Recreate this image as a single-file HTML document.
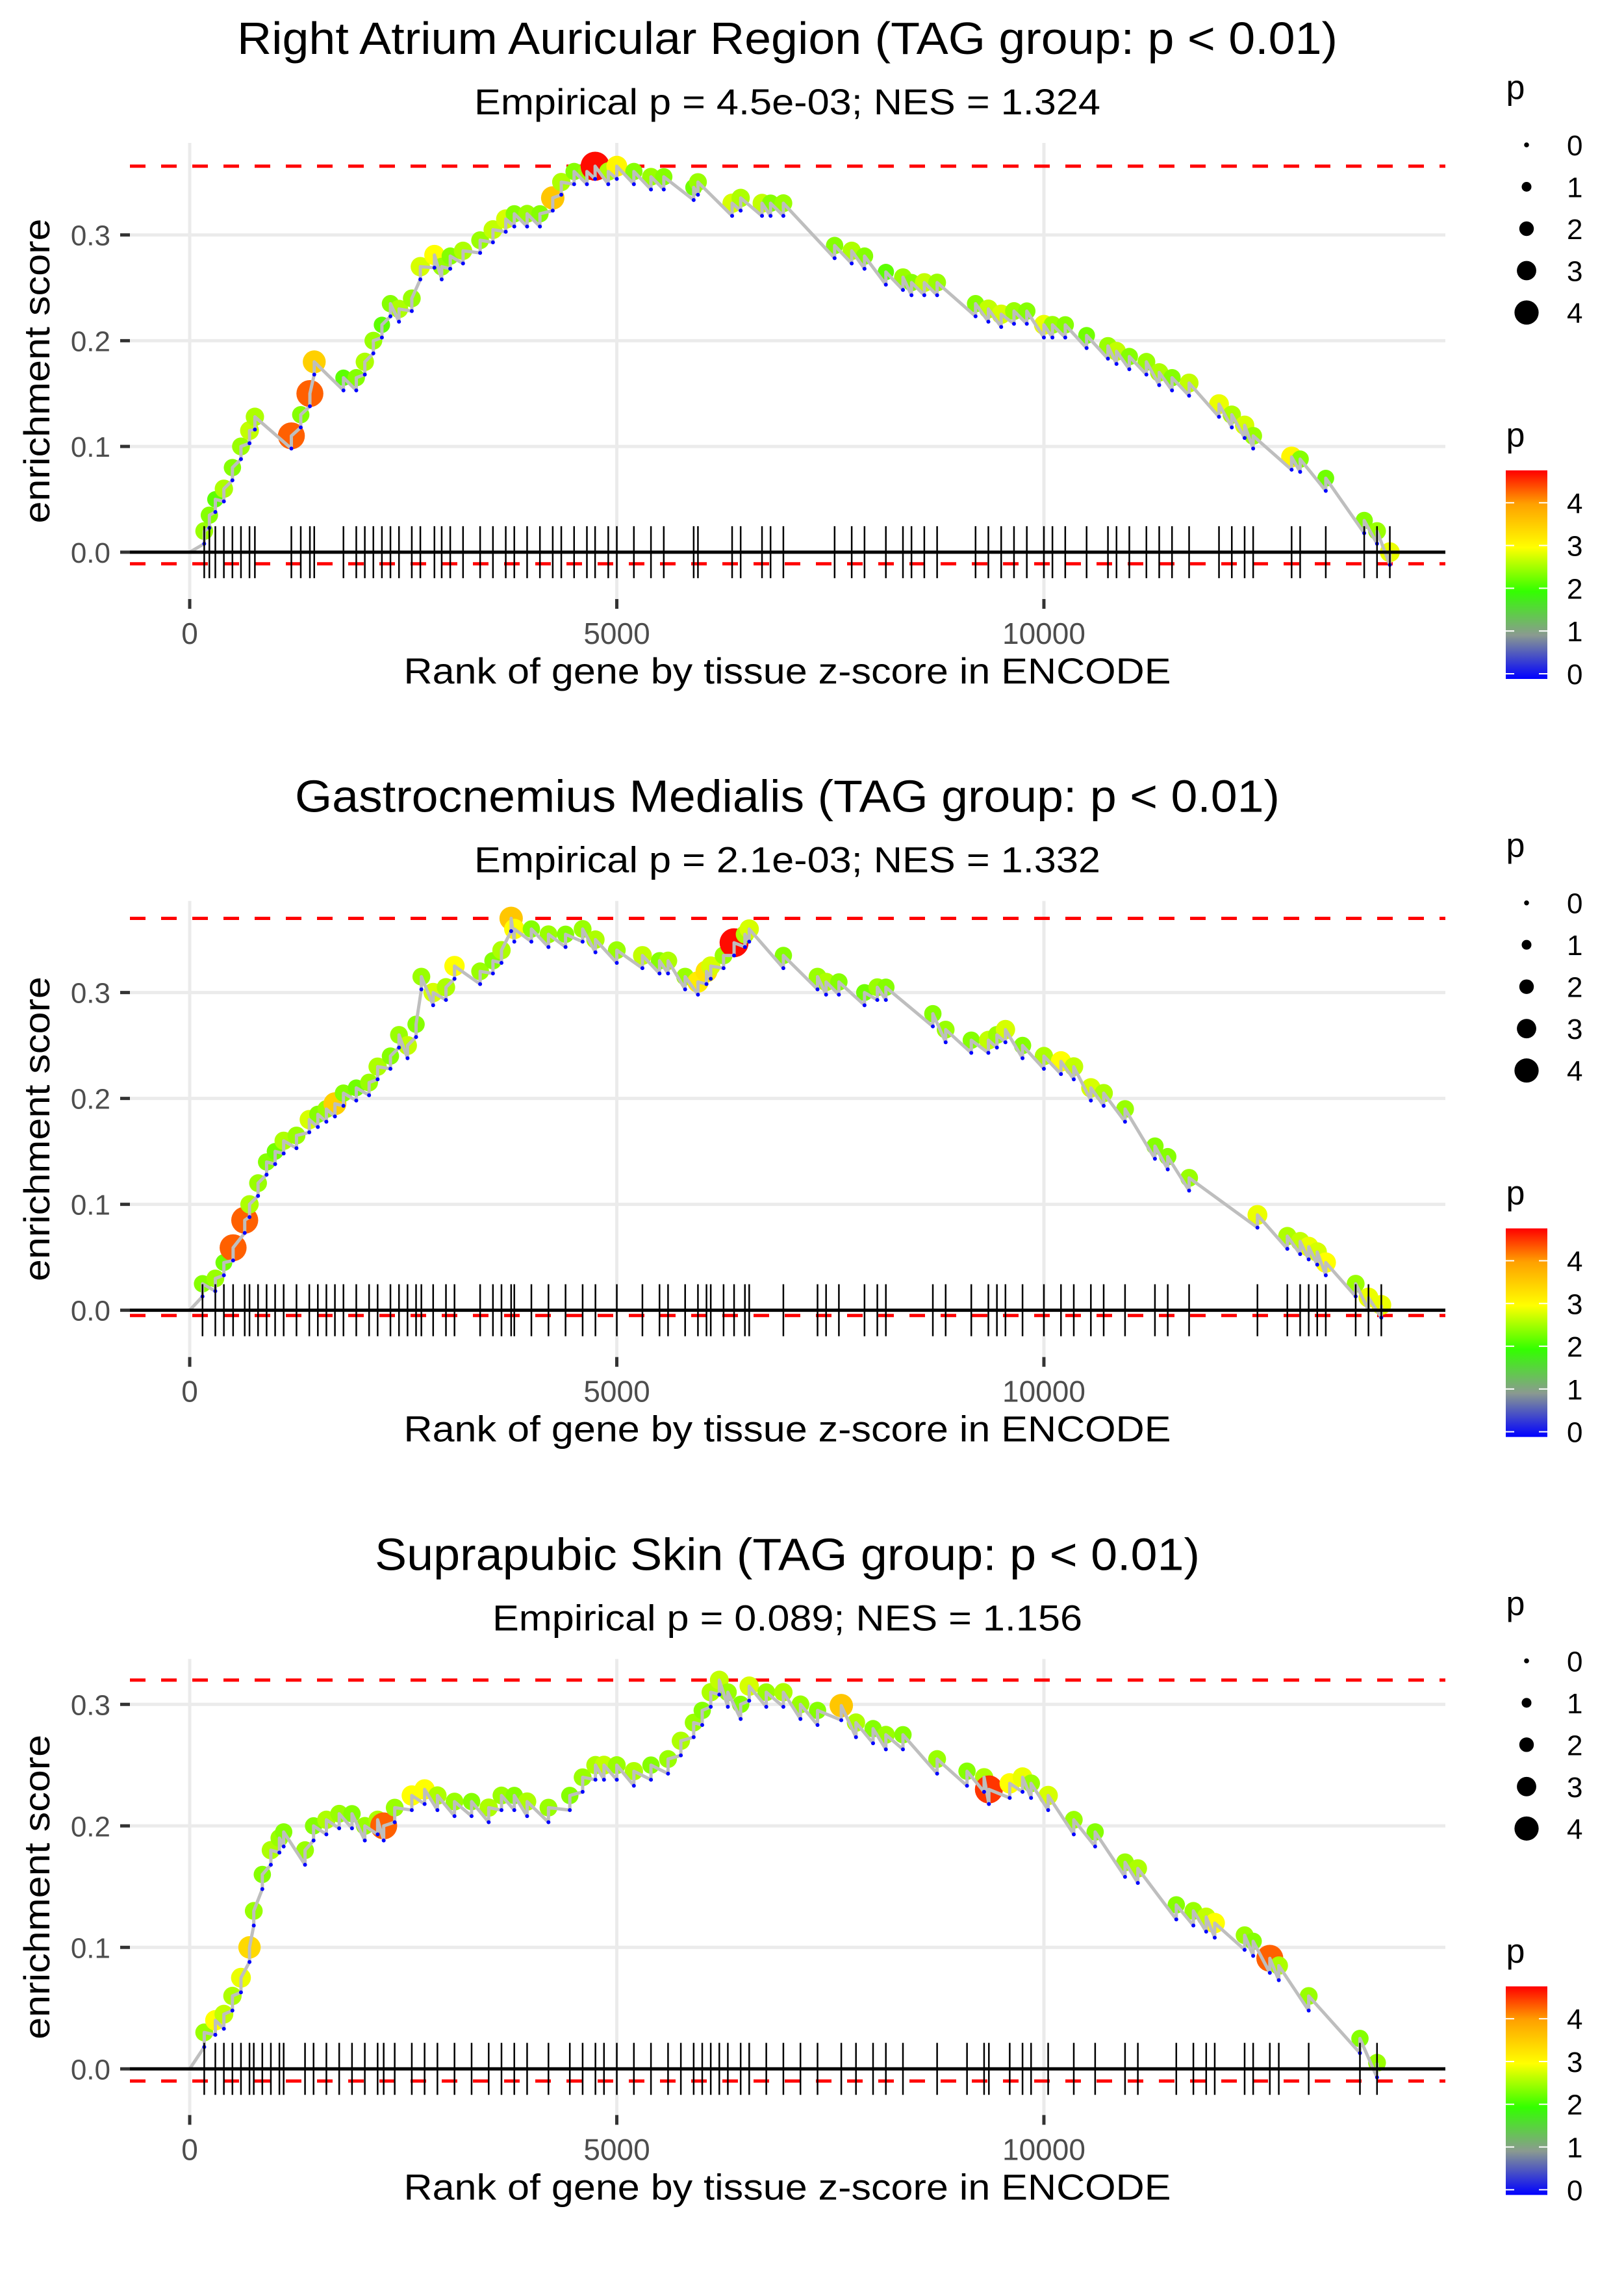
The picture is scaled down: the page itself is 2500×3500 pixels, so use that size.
<!DOCTYPE html>
<html><head><meta charset="utf-8"><style>
html,body{margin:0;padding:0;background:#fff;}
svg{display:block;font-family:"Liberation Sans",Arial,sans-serif;}
</style></head><body>
<svg id="chart" width="2500" height="3500" viewBox="0 0 2500 3500" xmlns="http://www.w3.org/2000/svg">
<defs>
<linearGradient id="pgrad" x1="0" y1="1" x2="0" y2="0">
<stop offset="0" stop-color="#0000ff"/>
<stop offset="0.21" stop-color="#8a9a90"/>
<stop offset="0.42" stop-color="#33ff00"/>
<stop offset="0.63" stop-color="#ffff00"/>
<stop offset="0.84" stop-color="#ffa000"/>
<stop offset="1" stop-color="#ff0000"/>
</linearGradient>
</defs>
</svg>
<script>
// ---- data ----
const titles = ["Right Atrium Auricular Region (TAG group: p < 0.01)","Gastrocnemius Medialis (TAG group: p < 0.01)","Suprapubic Skin (TAG group: p < 0.01)"];
const subtitles = ["Empirical p = 4.5e-03; NES = 1.324","Empirical p = 2.1e-03; NES = 1.332","Empirical p = 0.089; NES = 1.156"];
const xTicks = [0,5000,10000];
const yTicks1 = [0,0.1,0.2,0.3];
const yTicks2 = [0,0.1,0.2,0.3];
const yTicks3 = [0,0.1,0.2,0.3];
const esMax = [0.365,0.37,0.32];
const esMin = [-0.011,-0.005,-0.01];
const sizeLegend = [0,1,2,3,4];
const colorTicks = [0,1,2,3,4];

const rank1 = [170,230,300,400,500,600,700,763,1190,1300,1407,1458,1800,1950,2050,2150,2250,2350,2450,2600,2700,2865,2950,3050,3200,3400,3550,3700,3800,3950,4100,4250,4350,4500,4650,4746,4900,5000,5200,5400,5550,5900,5950,6350,6450,6700,6800,6950,7550,7750,7900,8150,8350,8450,8600,8750,9200,9350,9500,9650,9800,10000,10100,10250,10500,10750,10850,11000,11200,11350,11500,11700,12050,12200,12350,12450,12900,13000,13300,13750,13900,14050];
const es1 = [0.02,0.035,0.05,0.06,0.08,0.1,0.115,0.128,0.11,0.13,0.15,0.18,0.165,0.165,0.18,0.2,0.215,0.235,0.23,0.24,0.27,0.281,0.27,0.28,0.285,0.295,0.305,0.315,0.32,0.32,0.32,0.335,0.35,0.36,0.36,0.365,0.36,0.365,0.36,0.355,0.355,0.345,0.35,0.33,0.335,0.33,0.33,0.33,0.29,0.285,0.28,0.265,0.26,0.255,0.255,0.255,0.235,0.23,0.225,0.228,0.228,0.215,0.215,0.215,0.205,0.195,0.19,0.185,0.18,0.17,0.165,0.16,0.14,0.13,0.12,0.11,0.09,0.088,0.07,0.03,0.02,0.0];
const p1 = [2.5,2.4,2.2,2.6,2.4,2.5,2.7,2.6,4.3,2.4,4.3,3.5,2.2,2.4,2.6,2.5,2.2,2.4,2.6,2.5,2.8,3.0,2.5,2.4,2.6,2.5,2.7,2.8,2.4,2.5,2.4,3.6,2.6,2.4,2.5,4.7,2.6,3.1,2.4,2.5,2.4,2.3,2.5,2.8,2.6,2.7,2.4,2.5,2.4,2.6,2.4,2.2,2.5,2.4,2.7,2.5,2.4,2.7,2.8,2.5,2.4,2.9,2.5,2.4,2.3,2.5,2.7,2.4,2.5,2.6,2.4,2.7,2.9,2.6,2.8,2.5,3.1,2.4,2.3,2.4,2.5,2.9];

const rank2 = [150,300,400,508,644,700,800,900,1000,1100,1250,1400,1500,1600,1700,1800,1950,2100,2200,2350,2450,2550,2650,2712,2850,3000,3100,3400,3550,3650,3763,3800,4000,4200,4400,4600,4750,5000,5300,5500,5600,5800,5950,6050,6100,6250,6373,6500,6550,6950,7350,7450,7600,7900,8050,8150,8700,8850,9150,9350,9450,9550,9750,10000,10200,10350,10550,10700,10950,11300,11450,11700,12500,12850,13000,13100,13200,13300,13650,13800,13950];
const es2 = [0.025,0.03,0.045,0.059,0.085,0.1,0.12,0.14,0.15,0.16,0.165,0.18,0.185,0.19,0.195,0.205,0.21,0.215,0.23,0.24,0.26,0.25,0.27,0.315,0.3,0.305,0.325,0.32,0.33,0.34,0.37,0.36,0.36,0.355,0.355,0.36,0.35,0.34,0.335,0.33,0.33,0.315,0.31,0.32,0.325,0.335,0.347,0.355,0.36,0.335,0.315,0.31,0.31,0.3,0.305,0.305,0.28,0.265,0.255,0.255,0.26,0.265,0.25,0.24,0.235,0.23,0.21,0.205,0.19,0.155,0.145,0.125,0.09,0.07,0.065,0.06,0.055,0.045,0.025,0.012,0.005];
const p2 = [2.4,2.5,2.3,4.3,4.3,2.6,2.5,2.4,2.3,2.6,2.5,2.8,2.4,2.5,3.5,2.4,2.3,2.5,2.6,2.4,2.5,2.7,2.4,2.5,2.8,2.6,3.0,2.5,2.4,2.6,3.6,3.0,2.4,2.5,2.4,2.5,2.6,2.5,2.7,2.4,2.6,2.5,3.2,3.3,2.8,2.5,4.7,2.6,2.8,2.4,2.5,2.6,2.4,2.3,2.5,2.4,2.4,2.5,2.4,2.7,2.5,2.8,2.4,2.6,3.0,2.7,2.8,2.6,2.5,2.4,2.4,2.5,2.9,2.6,2.7,2.9,2.8,3.0,2.5,2.9,2.9];

const rank3 = [170,300,400,500,600,700,750,850,950,1050,1100,1350,1450,1600,1750,1900,2050,2200,2271,2400,2600,2750,2900,3100,3300,3500,3650,3800,3950,4200,4450,4600,4750,4850,5000,5200,5400,5600,5750,5900,6000,6100,6200,6300,6450,6550,6750,6950,7150,7350,7628,7800,8000,8150,8350,8750,9100,9300,9356,9600,9750,9850,10050,10350,10600,10950,11100,11550,11750,11900,12000,12350,12450,12645,12750,13100,13700,13900];
const es3 = [0.03,0.04,0.045,0.06,0.075,0.1,0.13,0.16,0.18,0.19,0.195,0.18,0.2,0.205,0.21,0.21,0.2,0.205,0.2,0.215,0.225,0.23,0.225,0.22,0.22,0.215,0.225,0.225,0.22,0.215,0.225,0.24,0.25,0.25,0.25,0.245,0.25,0.255,0.27,0.285,0.295,0.31,0.32,0.31,0.3,0.315,0.31,0.31,0.3,0.295,0.299,0.285,0.28,0.275,0.275,0.255,0.245,0.24,0.23,0.235,0.24,0.235,0.225,0.205,0.195,0.17,0.165,0.135,0.13,0.125,0.12,0.11,0.105,0.091,0.085,0.06,0.025,0.005];
const p3 = [2.5,3.0,2.7,2.6,2.9,3.4,2.5,2.4,2.6,2.5,2.4,2.5,2.4,2.6,2.5,2.4,2.5,2.6,4.3,2.5,3.0,3.0,2.6,2.5,2.4,2.6,2.5,2.4,2.6,2.5,2.4,2.5,2.6,2.7,2.5,2.6,2.4,2.5,2.6,2.5,2.4,2.6,2.7,2.5,2.4,2.8,2.5,2.6,2.5,2.4,3.6,2.6,2.4,2.5,2.4,2.5,2.4,2.6,4.5,3.0,2.9,2.5,2.8,2.5,2.4,2.5,2.6,2.4,2.5,2.7,3.0,2.5,2.4,4.3,2.6,2.5,2.4,2.5];

// ---- layout / helpers ----
const NS = "http://www.w3.org/2000/svg";
const svg = document.getElementById('chart');
function mk(tag, attrs, parent){ const e=document.createElementNS(NS,tag); for(const k in attrs) e.setAttribute(k,attrs[k]); (parent||svg).appendChild(e); return e; }
const stops = [[0,[0,0,255]],[1,[138,154,144]],[2,[51,255,0]],[3,[255,255,0]],[4,[255,160,0]],[4.75,[255,0,0]]];
function pColor(p){
  if(p<=stops[0][0]) return 'rgb(0,0,255)';
  for(let i=1;i<stops.length;i++){ if(p<=stops[i][0]){ const a=stops[i-1],b=stops[i],t=(p-a[0])/(b[0]-a[0]); const c=a[1].map((v,j)=>Math.round(v+(b[1][j]-v)*t)); return 'rgb('+c.join(',')+')'; } }
  return 'rgb(255,0,0)';
}
function pRadius(p){ return 4+3.9*p; }
const panelLeft=200, panelRight=2225, xMinDom=-700, xMaxDom=14700;
function xs(v){ return panelLeft + (v-xMinDom)/(xMaxDom-xMinDom)*(panelRight-panelLeft); }
const panelH = 3500/3;
const domains = [[-0.0443,0.387],[-0.0442,0.3865],[-0.038,0.3374]];
const panels = [[rank1,es1,p1,yTicks1],[rank2,es2,p2,yTicks2],[rank3,es3,p3,yTicks3]];
const titleLen = [1694,1516,1270];
const subLen = [964,964,908];
const jump = 0.012;

panels.forEach((pd,k)=>{
  const off = k*panelH;
  const top = 220+off, bot = 922+off;
  const dom = domains[k];
  const ys = v => bot - (v-dom[0])/(dom[1]-dom[0])*(bot-top);
  const [ranks, es, pv, yTicks] = pd;
  const g = mk('g',{});
  
  
  const t = mk('text',{x:1212,y:83+off,'font-size':70,'text-anchor':'middle',fill:'#000',textLength:titleLen[k],lengthAdjust:'spacingAndGlyphs'},g);
  t.textContent = titles[k];
  
  
  const st = mk('text',{x:1212,y:176+off,'font-size':56,'text-anchor':'middle',fill:'#000',textLength:subLen[k],lengthAdjust:'spacingAndGlyphs'},g);
  st.textContent = subtitles[k];
  
  
  yTicks.forEach(v=>{
    const l=mk('line',{x1:panelLeft,x2:panelRight,y1:ys(v),y2:ys(v),stroke:'#ebebeb','stroke-width':5},g);
    
    
    const tk=mk('line',{x1:185,x2:200,y1:ys(v),y2:ys(v),stroke:'#333','stroke-width':5},g);
    
    
    const lb=mk('text',{x:170,y:ys(v)+16,'font-size':44,'text-anchor':'end',fill:'#4d4d4d'},g);
    lb.textContent=v.toFixed(1);
    
    
  });
  xTicks.forEach(v=>{
    const l=mk('line',{x1:xs(v),x2:xs(v),y1:top,y2:bot,stroke:'#ebebeb','stroke-width':5},g);
    
    
    const tk=mk('line',{x1:xs(v),x2:xs(v),y1:bot,y2:bot+15,stroke:'#333','stroke-width':5},g);
    
    
    const lb=mk('text',{x:xs(v),y:bot+69,'font-size':46,'text-anchor':'middle',fill:'#4d4d4d'},g);
    lb.textContent=String(v);
    
    
  });
  [esMax[k],esMin[k]].forEach((v,i)=>{
    const l=mk('line',{x1:panelLeft,x2:panelRight,y1:ys(v),y2:ys(v),stroke:'#ff0000','stroke-width':5,'stroke-dasharray':'24 24'},g);
    
    
  });
  ranks.forEach((r,i)=>{
    const c=mk('circle',{cx:xs(r),cy:ys(es[i]),r:pRadius(pv[i]),fill:pColor(pv[i])},g);
    
    
  });
  let d='M'+xs(0)+','+ys(0);
  ranks.forEach((r,i)=>{ d+=' L'+xs(r)+','+ys(es[i]-jump)+' L'+xs(r)+','+ys(es[i]); });
  const path=mk('path',{d:d,fill:'none',stroke:'#bebebe','stroke-width':5,'stroke-linejoin':'round'},g);
  
  
  ranks.forEach((r,i)=>{
    const c=mk('circle',{cx:xs(r),cy:ys(es[i]-jump),r:3,fill:'#0000ff'},g);
    
    
  });
  const bl=mk('line',{x1:panelLeft,x2:panelRight,y1:ys(0),y2:ys(0),stroke:'#000','stroke-width':5},g);
  
  
  ranks.forEach(r=>{
    const l=mk('line',{x1:xs(r),x2:xs(r),y1:ys(0)-40,y2:ys(0)+40,stroke:'#000','stroke-width':2.5},g);
    
    
  });
  const xt=mk('text',{x:1212,y:1052+off,'font-size':56,'text-anchor':'middle',fill:'#000',textLength:1181,lengthAdjust:'spacingAndGlyphs'},g);
  xt.textContent='Rank of gene by tissue z-score in ENCODE';
  
  
  const cy = 571+off;
  const yt=mk('text',{x:0,y:0,'font-size':56,'text-anchor':'middle',fill:'#000',textLength:469,lengthAdjust:'spacingAndGlyphs',transform:'translate(76,'+cy+') rotate(-90)'},g);
  yt.textContent='enrichment score';
  
  
  const lt=mk('text',{x:2333,y:152+off,'font-size':52,fill:'#000','text-anchor':'middle'},g);
  lt.textContent='p';
  
  
  sizeLegend.forEach((v,i)=>{
    const yy=223+i*64.5+off;
    const c=mk('circle',{cx:2350,cy:yy,r:pRadius(v)*0.95,fill:'#000'},g);
    
    
    const tx=mk('text',{x:2412,y:yy+16,'font-size':44,fill:'#000'},g);
    tx.textContent=String(v);
    
    
  });
  const ct=mk('text',{x:2333,y:687+off,'font-size':52,fill:'#000','text-anchor':'middle'},g);
  ct.textContent='p';
  
  
  const barTop=724+off, barBot=1045+off;
  const cb=mk('rect',{x:2318,y:barTop,width:64,height:barBot-barTop,fill:'url(#pgrad)'},g);
  
  
  colorTicks.forEach(v=>{
    const yy=barBot - 8 - v*65.8;
    const a=mk('line',{x1:2318,x2:2331,y1:yy,y2:yy,stroke:'#fff','stroke-width':2},g);
    
    
    const b=mk('line',{x1:2369,x2:2382,y1:yy,y2:yy,stroke:'#fff','stroke-width':2},g);
    
    
    const tx=mk('text',{x:2412,y:yy+16,'font-size':44,fill:'#000'},g);
    tx.textContent=String(v);
    
    
  });
});
</script>
</body></html>
